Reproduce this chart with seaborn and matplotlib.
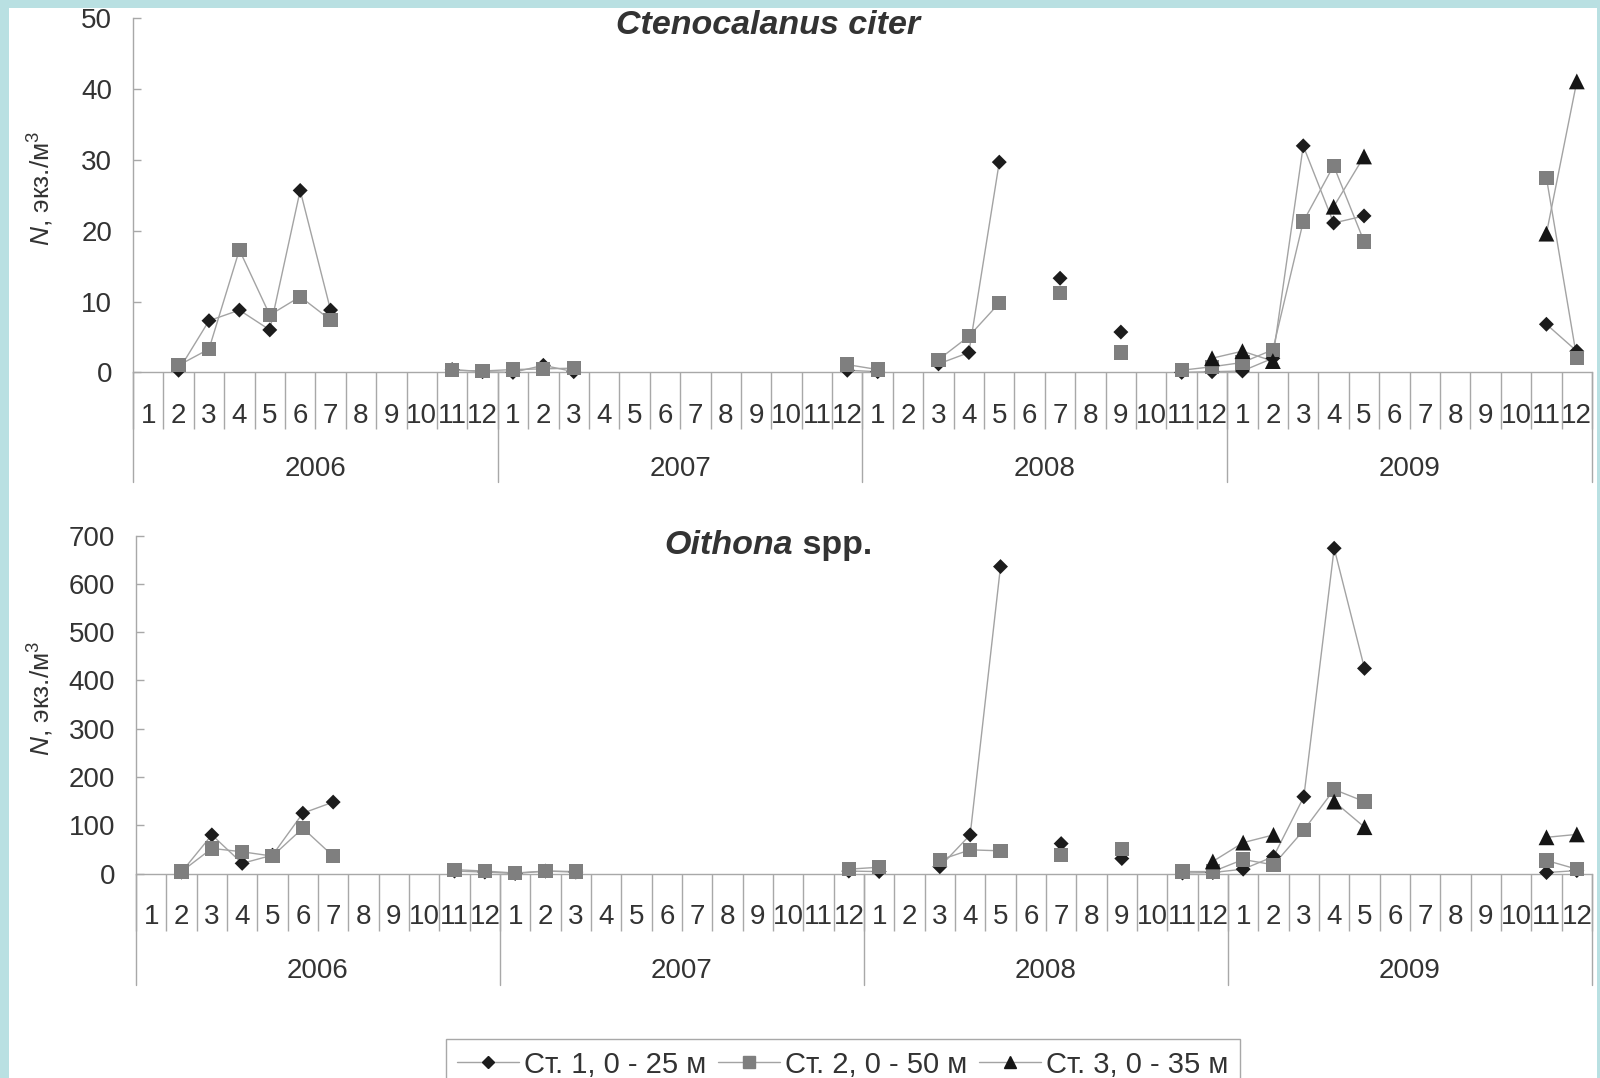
import numpy as np
import pandas as pd
import matplotlib
matplotlib.use("Agg")
import matplotlib.pyplot as plt
import matplotlib.transforms as mtransforms
from matplotlib.lines import Line2D
from matplotlib.patches import Rectangle
import seaborn as sns

sns.set_theme(style="white")
plt.rcParams['font.family'] = ['Liberation Sans', 'DejaVu Sans']
plt.rcParams['mathtext.fontset'] = 'custom'
plt.rcParams['mathtext.rm'] = 'Liberation Sans'
plt.rcParams['mathtext.it'] = 'Liberation Sans:italic'

nan = np.nan

# ---------------- data ----------------
years = ["2006", "2007", "2008", "2009"]
month_labels = [str(m) for m in range(1, 13)]
stations = ["Ст. 1, 0 - 25 м", "Ст. 2, 0 - 50 м", "Ст. 3, 0 - 35 м"]

# sampled months, counted from Jan 2006 (=0)
sample_month = [1, 2, 3, 4, 5, 6, 10, 11, 12, 13, 14, 23, 24, 26, 27, 28, 30, 32,
                34, 35, 36, 37, 38, 39, 40, 46, 47]

# Ctenocalanus citer
ct_st1 = [0.3, 7.3, 8.8, 6.0, 25.7, 8.8, 0.4, 0.1, 0.0, 1.0, 0.1, 0.3, 0.1, 1.2, 2.8, 29.7,
          13.3, 5.7, 0.0, 0.1, 0.2, 2.0, 32.0, 21.1, 22.1, 6.8, 3.0]
ct_st2 = [1.0, 3.3, 17.3, 8.1, 10.7, 7.4, 0.3, 0.2, 0.4, 0.5, 0.6, 1.1, 0.4, 1.8, 5.1, 9.8,
          11.2, 2.8, 0.3, 0.8, 1.4, 3.2, 21.3, 29.2, 18.5, 27.5, 2.0]
ct_st3 = [nan, nan, nan, nan, nan, nan, nan, nan, nan, nan, nan, nan, nan, nan, nan, nan,
          nan, nan, nan, 2.0, 3.0, 1.6, nan, 23.4, 30.5, 19.6, 41.1]

# Oithona spp.
oi_st1 = [3, 80, 21, 38, 125, 148, 5, 3, 0, 5, 3, 5, 4, 14, 80, 636,
          62, 31, 1, 2, 9, 35, 159, 674, 425, 2, 6]
oi_st2 = [4, 52, 45, 36, 94, 36, 8, 5, 1, 5, 4, 9, 13, 28, 49, 47,
          38, 50, 4, 4, 29, 18, 90, 174, 149, 27, 9]
oi_st3 = [nan, nan, nan, nan, nan, nan, nan, nan, nan, nan, nan, nan, nan, nan, nan, nan,
          nan, nan, nan, 25, 64, 80, nan, 149, 96, 75, 81]

# ---------------- style ----------------
BORDER = "#b9e0e2"
AXIS = "#a8a8a8"
LINE = "#a3a3a3"
TEXT = "#333333"
marker_shapes = {stations[0]: "D", stations[1]: "s", stations[2]: "^"}
marker_colors = {stations[0]: "#1c1c1c", stations[1]: "#7f7f7f", stations[2]: "#151515"}
marker_sizes = {stations[0]: 58, stations[1]: 105, stations[2]: 130}


def long_frame(series):
    rows = []
    for name, vals in series.items():
        seg = 0
        prev = None
        for pos, v in zip(sample_month, vals):
            if v is None or np.isnan(v):
                prev = None
                continue
            if prev is None or pos - prev > 1:
                seg += 1
            rows.append(dict(pos=pos, value=float(v), station=name, seg=f"{name}-{seg}"))
            prev = pos
    return pd.DataFrame(rows)


df_ct = long_frame({stations[0]: ct_st1, stations[1]: ct_st2, stations[2]: ct_st3})
df_oi = long_frame({stations[0]: oi_st1, stations[1]: oi_st2, stations[2]: oi_st3})

W, H = 1600, 1078
fig = plt.figure(figsize=(W / 100, H / 100), dpi=100)
fig.patch.set_facecolor(BORDER)
fig.add_artist(Rectangle((9 / W, 0), (1597 - 9) / W, (H - 8) / H, transform=fig.transFigure,
                         facecolor="white", edgecolor="none", zorder=-10))


def px_axes(left, right, top, bottom):
    return fig.add_axes([left / W, 1 - bottom / H, (right - left) / W, (bottom - top) / H])


def draw_panel(ax, df, ymax, ystep, height_px, month_pad, tick_len, line_px, label_px):
    sns.lineplot(data=df, x="pos", y="value", hue="station", units="seg", estimator=None,
                 palette={s: LINE for s in stations}, linewidth=1.0, legend=False,
                 sort=False, ax=ax)
    for ln in ax.lines:
        ln.set_clip_on(False)
        ln.set_zorder(2)
    sns.scatterplot(data=df, x="pos", y="value", hue="station", style="station", size="station",
                    palette=marker_colors, markers=marker_shapes, sizes=marker_sizes,
                    linewidth=0, legend=False, ax=ax, zorder=3, clip_on=False)
    ax.set_facecolor("none")
    ax.set_xlabel("")
    ax.set_ylabel("")
    ax.set_ylim(0, ymax)
    ax.set_yticks(np.arange(0, ymax + 1, ystep))
    ax.tick_params(axis="y", direction="in", length=6, width=1, color=AXIS, pad=15,
                   labelsize=20, labelcolor=TEXT, left=True)
    for side in ["top", "right"]:
        ax.spines[side].set_visible(False)
    for side in ["left", "bottom"]:
        ax.spines[side].set_color(AXIS)
        ax.spines[side].set_linewidth(1.0)

    ax.set_xlim(-0.5, 47.5)
    ax.set_xticks(np.arange(-0.5, 48, 1.0))
    ax.set_xticklabels([])
    ax.set_xticks(np.arange(48), minor=True)
    ax.set_xticklabels(month_labels * 4, minor=True)
    ax.tick_params(axis="x", which="major", direction="out", length=tick_len, width=1,
                   color=AXIS, bottom=True)
    ax.tick_params(axis="x", which="minor", length=0, pad=month_pad, labelsize=20,
                   labelcolor=TEXT, bottom=True)
    trans = mtransforms.blended_transform_factory(ax.transData, ax.transAxes)
    for k in range(5):
        x = -0.5 + 12 * k
        ax.plot([x, x], [0, -line_px / height_px], transform=trans, color=AXIS, lw=1,
                clip_on=False)
    for k, yr in enumerate(years):
        ax.text(5.5 + 12 * k, -label_px / height_px, yr, transform=trans, ha="center",
                va="center", fontsize=20, color=TEXT)


ax1 = px_axes(133, 1592, 18.4, 372.4)
draw_panel(ax1, df_ct, 50, 10, 372.4 - 18.4, 22, 41, 110, 97)
ax2 = px_axes(136, 1592, 535.7, 873.5)
draw_panel(ax2, df_oi, 700, 100, 873.5 - 535.7, 22, 41, 111, 97)

# titles
fig.text(768 / W, 1 - 26 / H, "Ctenocalanus citer", ha="center", va="center", fontsize=24.5,
         fontweight="bold", fontstyle="italic", color=TEXT)
fig.text(793 / W, 1 - 546 / H, "Oithona", ha="right", va="center", fontsize=24.5,
         fontweight="bold", fontstyle="italic", color=TEXT)
fig.text(793 / W, 1 - 546 / H, " spp.", ha="left", va="center", fontsize=24.5,
         fontweight="bold", color=TEXT)

# y labels
ylab = "$N$, экз./м$^3$"
fig.text(41 / W, 1 - 188 / H, ylab, rotation=90, ha="center", va="center", fontsize=19,
         color=TEXT)
fig.text(41 / W, 1 - 698 / H, ylab, rotation=90, ha="center", va="center", fontsize=19,
         color=TEXT)

# legend
handles = [Line2D([], [], color=LINE, lw=1, marker=marker_shapes[s],
                  markerfacecolor=marker_colors[s], markeredgecolor=marker_colors[s],
                  markersize=ms)
           for s, ms in zip(stations, [6, 8, 8])]
fig.legend(handles, stations, loc="upper center", bbox_to_anchor=(843 / W, 1 - 1039 / H),
           ncol=3, frameon=True, fontsize=21, handlelength=2.1, handletextpad=0.2,
           columnspacing=0.4, borderpad=0.4, fancybox=False, edgecolor=AXIS,
           framealpha=1, labelcolor=TEXT, borderaxespad=0)

fig.savefig("out.png", dpi=100, facecolor=fig.get_facecolor())
